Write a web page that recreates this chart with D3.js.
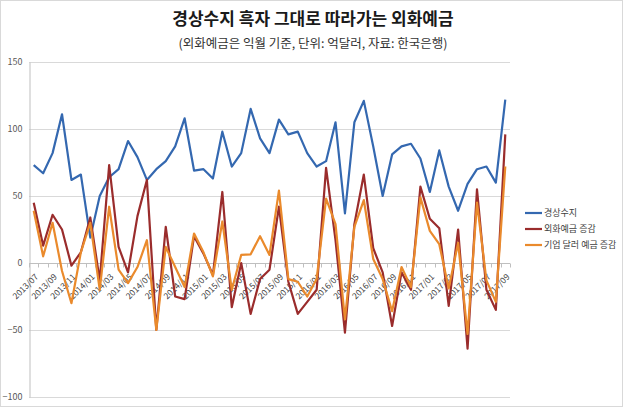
<!DOCTYPE html>
<html>
<head>
<meta charset="utf-8">
<script src="https://cdn.jsdelivr.net/npm/d3@7"></script>
<style>
  html, body { margin: 0; padding: 0; background: #fff; }
  svg { display: block; }
  text { font-family: "Noto Sans CJK KR", "Noto Sans", sans-serif; }
</style>
</head>
<body>
<svg id="chart" width="624" height="408"></svg>
<script>
const categories = [
  "2013/07","2013/08","2013/09","2013/10","2013/11","2013/12",
  "2014/01","2014/02","2014/03","2014/04","2014/05","2014/06","2014/07","2014/08","2014/09","2014/10","2014/11","2014/12",
  "2015/01","2015/02","2015/03","2015/04","2015/05","2015/06","2015/07","2015/08","2015/09","2015/10","2015/11","2015/12",
  "2016/01","2016/02","2016/03","2016/04","2016/05","2016/06","2016/07","2016/08","2016/09","2016/10","2016/11","2016/12",
  "2017/01","2017/02","2017/03","2017/04","2017/05","2017/06","2017/07","2017/08","2017/09"
];
const currentAccount = [73,67,82,111,62,66,19,50,64,70,91,79,62,70,76,87,108,69,70,63,98,72,82,115,93,82,107,96,98,82,72,76,105,37,105,121,87,50,81,87,89,78,53,84,57,39,59,70,72,60,122];
const fxDepositChange = [45,13,36,25,-2,8,34,-13,73,12,-7,35,62,-50,27,-25,-27,20,7,-9,53,-33,0,-38,-12,-5,42,-14,-38,-29,-20,71,17,-52,29,66,11,-7,-47,-7,-20,57,33,26,-32,25,-64,55,-20,-35,96];
const corpDollarDepositChange = [39,5,30,-6,-30,8,30,-20,42,-5,-15,-3,17,-50,12,-3,-18,22,8,-10,31,-20,6,6.5,20,6,54,-12,-14,-25,-12,48,29,-42,27,47,3,-12,-36,-3,-18,49,24,14,-19,15,-53,45,-13,-29,72];
const yTicks = [-100,-50,0,50,100,150];
const seriesNames = ["경상수지","외화예금 증감","기업 달러 예금 증감"];
const seriesColors = ["#3468b0","#9a2c2c","#ea8a2c"];
const title = "경상수지 흑자 그대로 따라가는 외화예금";
const subtitle = "(외화예금은 익월 기준, 단위: 억달러, 자료: 한국은행)";

const svg = d3.select("#chart");
const L = 29, R = 510, T = 62, B = 397;

svg.append("rect").attr("x",0.5).attr("y",0.5).attr("width",622).attr("height",406)
  .attr("fill","#fff").attr("stroke","#d9d9d9");

svg.append("text").attr("x",313).attr("y",25).attr("text-anchor","middle")
  .attr("font-size",17).attr("font-weight","bold").attr("fill","#1a1a1a").text(title);
svg.append("text").attr("x",313).attr("y",48).attr("text-anchor","middle")
  .attr("font-size",12.5).attr("fill","#333").text(subtitle);

const x = d3.scaleBand().domain(categories).range([L,R]).paddingInner(0).paddingOuter(0);
const y = d3.scaleLinear().domain([-100,150]).range([B,T]);
const cx = c => x(c) + x.bandwidth()/2;

// gridlines
svg.append("g").selectAll("line").data(yTicks).join("line")
  .attr("x1",L).attr("x2",R).attr("y1",d=>Math.round(y(d))+0.5).attr("y2",d=>Math.round(y(d))+0.5)
  .attr("stroke","#d9d9d9").attr("stroke-width",1);

// y axis
const yAxis = svg.append("g").attr("transform",`translate(${L+0.5},0)`)
  .call(d3.axisLeft(y).tickValues(yTicks).tickSize(0).tickPadding(7));
yAxis.select(".domain").attr("stroke","#bfbfbf");
yAxis.selectAll("text").attr("font-size",9).attr("fill","#595959")
  .attr("font-family","'Liberation Sans', sans-serif");

// x axis at zero
const xAxisG = svg.append("g").attr("transform",`translate(0,${Math.round(y(0))+0.5})`);
xAxisG.append("line").attr("x1",L).attr("x2",R).attr("stroke","#bfbfbf");
xAxisG.selectAll("line.tick").data(categories.concat(["__end"])).join("line").attr("class","tick")
  .attr("x1",(d,i)=>Math.round(L + i*x.bandwidth())+0.5).attr("x2",(d,i)=>Math.round(L + i*x.bandwidth())+0.5)
  .attr("y1",0).attr("y2",4).attr("stroke","#bfbfbf");
xAxisG.selectAll("text").data(categories.filter((d,i)=>i%2===0)).join("text")
  .attr("transform",d=>`translate(${cx(d)+5},${14}) rotate(-45)`)
  .attr("text-anchor","end").attr("font-size",8.5).attr("fill","#404040")
  .attr("font-family","'Liberation Sans', sans-serif")
  .text(d=>d);

// lines
const seriesData = [currentAccount, fxDepositChange, corpDollarDepositChange];
const line = d3.line().x((d,i)=>cx(categories[i])).y(d=>y(d)).curve(d3.curveLinear);
[0,1,2].forEach(k=>{
  svg.append("path").datum(seriesData[k]).attr("d",line)
    .attr("fill","none").attr("stroke",seriesColors[k]).attr("stroke-width",2.2)
    .attr("stroke-linejoin","round");
});

// legend
const lg = svg.append("g");
seriesNames.forEach((n,k)=>{
  const yy = 213 + k*16;
  lg.append("line").attr("x1",525).attr("x2",542).attr("y1",yy).attr("y2",yy)
    .attr("stroke",seriesColors[k]).attr("stroke-width",2.2);
  lg.append("text").attr("x",544).attr("y",yy).attr("dy","0.35em")
    .attr("font-size",9).attr("fill","#404040").text(n);
});
</script>
</body>
</html>
